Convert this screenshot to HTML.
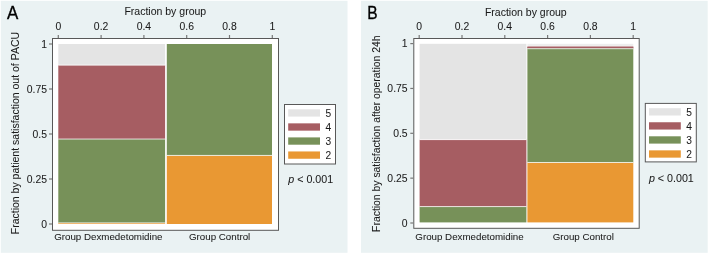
<!DOCTYPE html><html><head><meta charset="utf-8"><style>html,body{margin:0;padding:0;background:#fff;width:709px;height:254px;overflow:hidden}svg{display:block;will-change:transform}</style></head><body>
<svg width="709" height="254" viewBox="0 0 709 254" font-family="'Liberation Sans', sans-serif">
<g transform="translate(0,0)">
<rect x="0.8" y="0.8" width="346.7" height="252.0" fill="#EAF2F3"/>
<text transform="translate(12.7,18.7) scale(0.88,1)" x="0" y="0" font-size="19.2" text-anchor="middle" fill="#000" stroke="#000" stroke-width="0.35">A</text>
<rect x="52.5" y="38.5" width="226" height="191.8" fill="#fff" stroke="#585858" stroke-width="1"/>
<rect x="58.30" y="222.92" width="106.80" height="1.08" fill="#E99833"/>
<rect x="58.30" y="139.04" width="106.80" height="83.88" fill="#779159"/>
<rect x="58.30" y="65.11" width="106.80" height="73.93" fill="#A65D62"/>
<rect x="58.30" y="44.00" width="106.80" height="21.11" fill="#E4E4E4"/>
<rect x="58.30" y="222.42" width="106.80" height="1" fill="#fff" fill-opacity="0.75"/>
<rect x="58.30" y="138.54" width="106.80" height="1" fill="#fff" fill-opacity="0.75"/>
<rect x="58.30" y="64.61" width="106.80" height="1" fill="#fff" fill-opacity="0.75"/>
<rect x="166.80" y="155.42" width="105.20" height="68.58" fill="#E99833"/>
<rect x="166.80" y="44.00" width="105.20" height="111.42" fill="#779159"/>
<rect x="166.80" y="154.92" width="105.20" height="1" fill="#fff" fill-opacity="0.75"/>
<line x1="58.30" y1="35" x2="58.30" y2="38" stroke="#787878" stroke-width="1.2"/>
<text x="58.30" y="30.0" font-size="10.4" text-anchor="middle" fill="#1A1A1A" stroke="#1A1A1A" stroke-width="0.05">0</text>
<line x1="101.10" y1="35" x2="101.10" y2="38" stroke="#787878" stroke-width="1.2"/>
<text x="101.10" y="30.0" font-size="10.4" text-anchor="middle" fill="#1A1A1A" stroke="#1A1A1A" stroke-width="0.05">0.2</text>
<line x1="143.90" y1="35" x2="143.90" y2="38" stroke="#787878" stroke-width="1.2"/>
<text x="143.90" y="30.0" font-size="10.4" text-anchor="middle" fill="#1A1A1A" stroke="#1A1A1A" stroke-width="0.05">0.4</text>
<line x1="186.70" y1="35" x2="186.70" y2="38" stroke="#787878" stroke-width="1.2"/>
<text x="186.70" y="30.0" font-size="10.4" text-anchor="middle" fill="#1A1A1A" stroke="#1A1A1A" stroke-width="0.05">0.6</text>
<line x1="229.50" y1="35" x2="229.50" y2="38" stroke="#787878" stroke-width="1.2"/>
<text x="229.50" y="30.0" font-size="10.4" text-anchor="middle" fill="#1A1A1A" stroke="#1A1A1A" stroke-width="0.05">0.8</text>
<line x1="272.30" y1="35" x2="272.30" y2="38" stroke="#787878" stroke-width="1.2"/>
<text x="272.30" y="30.0" font-size="10.4" text-anchor="middle" fill="#1A1A1A" stroke="#1A1A1A" stroke-width="0.05">1</text>
<text x="165.3" y="14.6" font-size="10.5" text-anchor="middle" fill="#1A1A1A" stroke="#1A1A1A" stroke-width="0.05">Fraction by group</text>
<line x1="49" y1="224.00" x2="52" y2="224.00" stroke="#787878" stroke-width="1.2"/>
<text x="47" y="228.20" font-size="10.4" text-anchor="end" fill="#1A1A1A" stroke="#1A1A1A" stroke-width="0.05">0</text>
<line x1="49" y1="179.00" x2="52" y2="179.00" stroke="#787878" stroke-width="1.2"/>
<text x="47" y="183.20" font-size="10.4" text-anchor="end" fill="#1A1A1A" stroke="#1A1A1A" stroke-width="0.05">0.25</text>
<line x1="49" y1="134.00" x2="52" y2="134.00" stroke="#787878" stroke-width="1.2"/>
<text x="47" y="138.20" font-size="10.4" text-anchor="end" fill="#1A1A1A" stroke="#1A1A1A" stroke-width="0.05">0.5</text>
<line x1="49" y1="89.00" x2="52" y2="89.00" stroke="#787878" stroke-width="1.2"/>
<text x="47" y="93.20" font-size="10.4" text-anchor="end" fill="#1A1A1A" stroke="#1A1A1A" stroke-width="0.05">0.75</text>
<line x1="49" y1="44.00" x2="52" y2="44.00" stroke="#787878" stroke-width="1.2"/>
<text x="47" y="48.20" font-size="10.4" text-anchor="end" fill="#1A1A1A" stroke="#1A1A1A" stroke-width="0.05">1</text>
<text transform="translate(18.6,133.1) rotate(-90)" x="0" y="0" font-size="10.5" text-anchor="middle" fill="#1A1A1A" stroke="#1A1A1A" stroke-width="0.05">Fraction by patient satisfaction out of PACU</text>
<text x="108.35" y="240.3" font-size="9.75" text-anchor="middle" fill="#1A1A1A" stroke="#1A1A1A" stroke-width="0.05">Group Dexmedetomidine</text>
<text x="219.65" y="240.3" font-size="9.75" text-anchor="middle" fill="#1A1A1A" stroke="#1A1A1A" stroke-width="0.05">Group Control</text>
<rect x="284.5" y="104.5" width="51" height="59.5" fill="#fff" stroke="#585858" stroke-width="1"/>
<rect x="288.2" y="109.30" width="31.8" height="7.3" fill="#E4E4E4"/>
<text x="325.5" y="116.70" font-size="10.2" fill="#1A1A1A" stroke="#1A1A1A" stroke-width="0.05">5</text>
<rect x="288.2" y="123.35" width="31.8" height="7.3" fill="#A65D62"/>
<text x="325.5" y="130.75" font-size="10.2" fill="#1A1A1A" stroke="#1A1A1A" stroke-width="0.05">4</text>
<rect x="288.2" y="137.40" width="31.8" height="7.3" fill="#779159"/>
<text x="325.5" y="144.80" font-size="10.2" fill="#1A1A1A" stroke="#1A1A1A" stroke-width="0.05">3</text>
<rect x="288.2" y="151.45" width="31.8" height="7.3" fill="#E99833"/>
<text x="325.5" y="158.85" font-size="10.2" fill="#1A1A1A" stroke="#1A1A1A" stroke-width="0.05">2</text>
<text x="288.3" y="183.2" font-size="10.7" fill="#1A1A1A" stroke="#1A1A1A" stroke-width="0.05"><tspan font-style="italic">p</tspan> &lt; 0.001</text>
</g>
<g transform="translate(361.3,0)">
<rect x="-0.3" y="0.8" width="346.7" height="252.0" fill="#EAF2F3"/>
<text transform="translate(11.1,18.5) scale(0.825,1)" x="0" y="0" font-size="18.8" text-anchor="middle" fill="#000" stroke="#000" stroke-width="0.35">B</text>
<rect x="52.5" y="38.5" width="225.4" height="189.8" fill="#fff" stroke="#585858" stroke-width="1"/>
<rect x="58.30" y="206.59" width="106.80" height="15.81" fill="#779159"/>
<rect x="58.30" y="139.60" width="106.80" height="66.99" fill="#A65D62"/>
<rect x="58.30" y="43.80" width="106.80" height="95.80" fill="#E4E4E4"/>
<rect x="58.30" y="206.09" width="106.80" height="1" fill="#fff" fill-opacity="0.75"/>
<rect x="58.30" y="139.10" width="106.80" height="1" fill="#fff" fill-opacity="0.75"/>
<rect x="166.10" y="162.48" width="105.90" height="59.92" fill="#E99833"/>
<rect x="166.10" y="48.69" width="105.90" height="113.79" fill="#779159"/>
<rect x="166.10" y="46.84" width="105.90" height="1.86" fill="#A65D62"/>
<rect x="166.10" y="43.80" width="105.90" height="3.04" fill="#EEEEEE"/>
<rect x="166.10" y="161.98" width="105.90" height="1" fill="#fff" fill-opacity="0.75"/>
<rect x="166.10" y="48.19" width="105.90" height="1" fill="#fff" fill-opacity="0.75"/>
<rect x="166.10" y="46.34" width="105.90" height="1" fill="#fff" fill-opacity="0.75"/>
<rect x="166.1" y="46.5" width="105.9" height="1.5" fill="#A65D62"/>
<rect x="166.1" y="48.0" width="105.9" height="0.6" fill="#C9D3BD"/>
<line x1="57.90" y1="35" x2="57.90" y2="38" stroke="#787878" stroke-width="1.2"/>
<text x="57.90" y="30.0" font-size="10.4" text-anchor="middle" fill="#1A1A1A" stroke="#1A1A1A" stroke-width="0.05">0</text>
<line x1="100.70" y1="35" x2="100.70" y2="38" stroke="#787878" stroke-width="1.2"/>
<text x="100.70" y="30.0" font-size="10.4" text-anchor="middle" fill="#1A1A1A" stroke="#1A1A1A" stroke-width="0.05">0.2</text>
<line x1="143.50" y1="35" x2="143.50" y2="38" stroke="#787878" stroke-width="1.2"/>
<text x="143.50" y="30.0" font-size="10.4" text-anchor="middle" fill="#1A1A1A" stroke="#1A1A1A" stroke-width="0.05">0.4</text>
<line x1="186.30" y1="35" x2="186.30" y2="38" stroke="#787878" stroke-width="1.2"/>
<text x="186.30" y="30.0" font-size="10.4" text-anchor="middle" fill="#1A1A1A" stroke="#1A1A1A" stroke-width="0.05">0.6</text>
<line x1="229.10" y1="35" x2="229.10" y2="38" stroke="#787878" stroke-width="1.2"/>
<text x="229.10" y="30.0" font-size="10.4" text-anchor="middle" fill="#1A1A1A" stroke="#1A1A1A" stroke-width="0.05">0.8</text>
<line x1="271.90" y1="35" x2="271.90" y2="38" stroke="#787878" stroke-width="1.2"/>
<text x="271.90" y="30.0" font-size="10.4" text-anchor="middle" fill="#1A1A1A" stroke="#1A1A1A" stroke-width="0.05">1</text>
<text x="164.5" y="16.0" font-size="10.5" text-anchor="middle" fill="#1A1A1A" stroke="#1A1A1A" stroke-width="0.05">Fraction by group</text>
<line x1="49" y1="223.00" x2="52" y2="223.00" stroke="#787878" stroke-width="1.2"/>
<text x="46.3" y="226.50" font-size="10.4" text-anchor="end" fill="#1A1A1A" stroke="#1A1A1A" stroke-width="0.05">0</text>
<line x1="49" y1="178.15" x2="52" y2="178.15" stroke="#787878" stroke-width="1.2"/>
<text x="46.3" y="181.65" font-size="10.4" text-anchor="end" fill="#1A1A1A" stroke="#1A1A1A" stroke-width="0.05">0.25</text>
<line x1="49" y1="133.30" x2="52" y2="133.30" stroke="#787878" stroke-width="1.2"/>
<text x="46.3" y="136.80" font-size="10.4" text-anchor="end" fill="#1A1A1A" stroke="#1A1A1A" stroke-width="0.05">0.5</text>
<line x1="49" y1="88.45" x2="52" y2="88.45" stroke="#787878" stroke-width="1.2"/>
<text x="46.3" y="91.95" font-size="10.4" text-anchor="end" fill="#1A1A1A" stroke="#1A1A1A" stroke-width="0.05">0.75</text>
<line x1="49" y1="43.60" x2="52" y2="43.60" stroke="#787878" stroke-width="1.2"/>
<text x="46.3" y="47.10" font-size="10.4" text-anchor="end" fill="#1A1A1A" stroke="#1A1A1A" stroke-width="0.05">1</text>
<text transform="translate(18.6,133.7) rotate(-90)" x="0" y="0" font-size="10.4" text-anchor="middle" fill="#1A1A1A" stroke="#1A1A1A" stroke-width="0.05">Fraction by satisfaction after operation 24h</text>
<text x="108.2" y="240.3" font-size="9.75" text-anchor="middle" fill="#1A1A1A" stroke="#1A1A1A" stroke-width="0.05">Group Dexmedetomidine</text>
<text x="222.0" y="240.3" font-size="9.75" text-anchor="middle" fill="#1A1A1A" stroke="#1A1A1A" stroke-width="0.05">Group Control</text>
<rect x="284.0" y="103.4" width="51" height="58.5" fill="#fff" stroke="#585858" stroke-width="1"/>
<rect x="287.7" y="108.20" width="31.8" height="7.3" fill="#E4E4E4"/>
<text x="325.0" y="115.60" font-size="10.2" fill="#1A1A1A" stroke="#1A1A1A" stroke-width="0.05">5</text>
<rect x="287.7" y="122.25" width="31.8" height="7.3" fill="#A65D62"/>
<text x="325.0" y="129.65" font-size="10.2" fill="#1A1A1A" stroke="#1A1A1A" stroke-width="0.05">4</text>
<rect x="287.7" y="136.30" width="31.8" height="7.3" fill="#779159"/>
<text x="325.0" y="143.70" font-size="10.2" fill="#1A1A1A" stroke="#1A1A1A" stroke-width="0.05">3</text>
<rect x="287.7" y="150.35" width="31.8" height="7.3" fill="#E99833"/>
<text x="325.0" y="157.75" font-size="10.2" fill="#1A1A1A" stroke="#1A1A1A" stroke-width="0.05">2</text>
<text x="287.6" y="181.7" font-size="10.7" fill="#1A1A1A" stroke="#1A1A1A" stroke-width="0.05"><tspan font-style="italic">p</tspan> &lt; 0.001</text>
</g>
</svg></body></html>
